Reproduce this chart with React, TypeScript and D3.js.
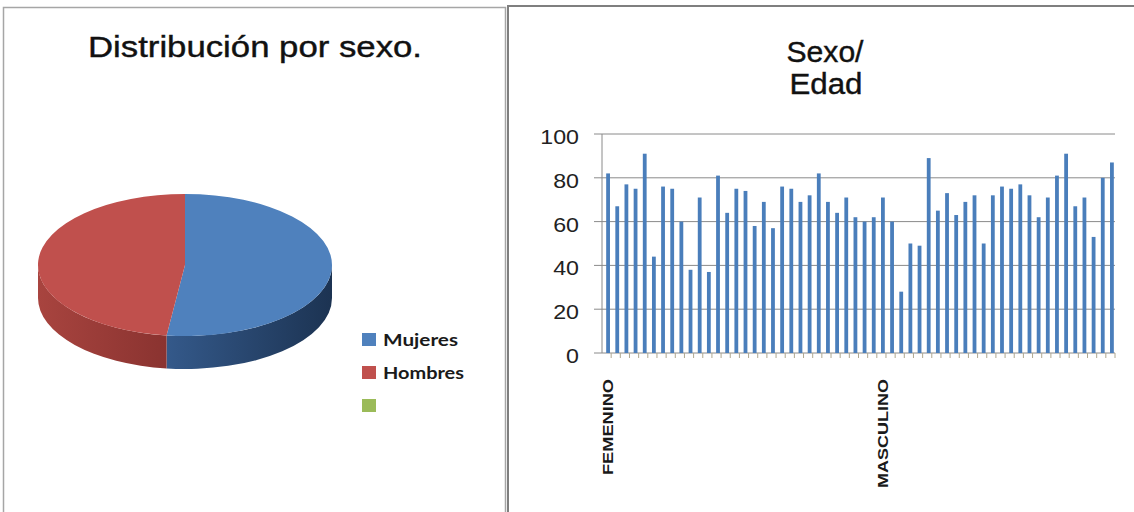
import React from "react";
import * as d3 from "d3";

// Pie: share of patients by sex
const pieLabels = ["Mujeres", "Hombres", ""];
const pieShares = [52, 48, 0];
const pieColors = ["#4F81BD", "#C0504D", "#9BBB59"];
const sideColors: [string, string][] = [
  ["#34598A", "#1C3352"],
  ["#A8443F", "#8A3330"],
  ["#7A9446", "#5E7236"],
];

// Bars: age of each patient, women first then men
const womenAges = [82, 67, 77, 75, 91, 44, 76, 75, 60, 38, 71, 37, 81, 64, 75, 74, 58, 69, 57, 76, 75, 69, 72, 82, 69, 64, 71, 62, 60, 62];
const menAges = [71, 60, 28, 50, 49, 89, 65, 73, 63, 69, 72, 50, 72, 76, 75, 77, 72, 62, 71, 81, 91, 67, 71, 53, 80, 87];
const groupLabels = ["FEMENINO", "MASCULINO"];
const yTicks = [0, 20, 40, 60, 80, 100];

const ages = [...womenAges, ...menAges];
const catLabels = ages.map((_, i) =>
  i === 0 ? groupLabels[0] : i === womenAges.length ? groupLabels[1] : ""
);

const FONT = "'Liberation Sans', Arial, sans-serif";

function Pie3D() {
  const cx = 185, cy = 265, rx = 147, ry = 71, depth = 33;
  const pt = (t: number, dy = 0) => [cx + rx * Math.sin(t), cy - ry * Math.cos(t) + dy];
  const arcs = d3.pie<number>().sort(null).value((d) => d)(pieShares);

  const topPath = (a: number, b: number) => {
    const [x0, y0] = pt(a);
    const [x1, y1] = pt(b);
    const large = b - a > Math.PI ? 1 : 0;
    return `M${cx},${cy}L${x0},${y0}A${rx},${ry} 0 ${large} 1 ${x1},${y1}Z`;
  };
  const sidePath = (a: number, b: number) => {
    const s = Math.max(a, Math.PI / 2);
    const e = Math.min(b, (3 * Math.PI) / 2);
    if (s >= e) return null;
    const [x0, y0] = pt(s);
    const [x1, y1] = pt(e);
    const [x2, y2] = pt(e, depth);
    const [x3, y3] = pt(s, depth);
    return `M${x0},${y0}A${rx},${ry} 0 0 1 ${x1},${y1}L${x2},${y2}A${rx},${ry} 0 0 0 ${x3},${y3}Z`;
  };

  return (
    <g>
      <defs>
        {arcs.map((a, i) => {
          const s = Math.max(a.startAngle, Math.PI / 2);
          const e = Math.min(a.endAngle, (3 * Math.PI) / 2);
          const xs = [pt(s)[0], pt(e)[0]].sort((p, q) => p - q);
          return (
            <linearGradient key={i} id={`side${i}`} gradientUnits="userSpaceOnUse" x1={xs[0]} x2={xs[1]} y1={0} y2={0}>
              <stop offset="0" stopColor={sideColors[i][0]} />
              <stop offset="1" stopColor={sideColors[i][1]} />
            </linearGradient>
          );
        })}
      </defs>
      {arcs.map((a, i) => {
        const d = a.endAngle > a.startAngle ? sidePath(a.startAngle, a.endAngle) : null;
        return d ? <path key={`s${i}`} d={d} fill={`url(#side${i})`} /> : null;
      })}
      {arcs.map((a, i) =>
        a.endAngle > a.startAngle ? (
          <path key={`t${i}`} d={topPath(a.startAngle, a.endAngle)} fill={pieColors[i]} />
        ) : null
      )}
    </g>
  );
}

function Legend() {
  const x = 362, y0 = 333, gap = 33;
  const lens = [75, 81, 0];
  return (
    <g>
      {pieLabels.map((lab, i) => (
        <g key={i}>
          <rect x={x} y={y0 + i * gap} width={14} height={13} fill={pieColors[i]} />
          {lab ? (
            <text
              x={x + 21}
              y={y0 + i * gap + 13}
              fontFamily="Lato, 'Open Sans', sans-serif"
              fontSize={17}
              fontWeight={700}
              fill="#1a1a1a"
              textLength={lens[i]}
              lengthAdjust="spacingAndGlyphs"
            >
              {lab}
            </text>
          ) : null}
        </g>
      ))}
    </g>
  );
}

function Bars() {
  const x = d3.scaleBand<number>().domain(d3.range(ages.length)).range([602, 1115]);
  const y = d3.scaleLinear().domain([0, 100]).range([353, 134]);
  const bw = 3.8;
  return (
    <g>
      {yTicks.map((t) => (
        <g key={t}>
          <line x1={594} x2={1115} y1={y(t)} y2={y(t)} stroke="#8a8a8a" strokeWidth={1} />
          <g transform={`translate(579,${y(t) + 10}) scale(1.16,1)`}>
            <text textAnchor="end" fontFamily={FONT} fontSize={20} fill="#222">
              {t}
            </text>
          </g>
        </g>
      ))}
      <line x1={602} x2={602} y1={y(100)} y2={y(0)} stroke="#8a8a8a" strokeWidth={1} />
      {ages.map((_, i) => (
        <line
          key={`tk${i}`}
          x1={(x(i) as number) + x.step()}
          x2={(x(i) as number) + x.step()}
          y1={y(0)}
          y2={y(0) + 5}
          stroke="#b0a890"
          strokeWidth={1}
        />
      ))}
      {ages.map((v, i) => (
        <rect
          key={`b${i}`}
          x={(x(i) as number) + x.bandwidth() / 2 - bw / 2 + 1.5}
          y={y(v)}
          width={bw}
          height={y(0) - y(v)}
          fill="#4A7EBB"
        />
      ))}
      {catLabels.map((lab, i) =>
        lab ? (
          <text
            key={`c${i}`}
            transform={`translate(${(x(i) as number) + x.bandwidth() / 2 + 1.5},379) rotate(-90)`}
            textAnchor="end"
            dy="0.36em"
            fontFamily={FONT}
            fontWeight={700}
            fontSize={15}
            fill="#1a1a1a"
            textLength={i === 0 ? 96 : 109}
            lengthAdjust="spacingAndGlyphs"
          >
            {lab}
          </text>
        ) : null
      )}
    </g>
  );
}

export default function App() {
  return (
    <svg
      width={1134}
      height={512}
      style={{ position: "absolute", left: 0, top: 0, background: "#fff" }}
    >
      <rect x={0} y={0} width={1134} height={512} fill="#fff" />
      {/* left panel */}
      <rect x={3.5} y={7.5} width={502} height={520} fill="#fff" stroke="#a6a6a6" strokeWidth={1.5} />
      {/* right panel */}
      <rect x={508} y={6} width={640} height={520} fill="#fff" stroke="#7f7f7f" strokeWidth={2} />

      <text
        x={88}
        y={57}
        fontFamily={FONT}
        fontSize={29}
        fill="#111"
        stroke="#111"
        strokeWidth={0.4}
        textLength={334}
        lengthAdjust="spacingAndGlyphs"
      >
        Distribución por sexo.
      </text>
      <Pie3D />
      <Legend />

      <text x={825} y={62} textAnchor="middle" fontFamily={FONT} fontSize={29} fill="#111" stroke="#111" strokeWidth={0.4} textLength={77} lengthAdjust="spacingAndGlyphs">
        Sexo/
      </text>
      <text x={826} y={94} textAnchor="middle" fontFamily={FONT} fontSize={29} fill="#111" stroke="#111" strokeWidth={0.4} textLength={73} lengthAdjust="spacingAndGlyphs">
        Edad
      </text>
      <Bars />
    </svg>
  );
}
